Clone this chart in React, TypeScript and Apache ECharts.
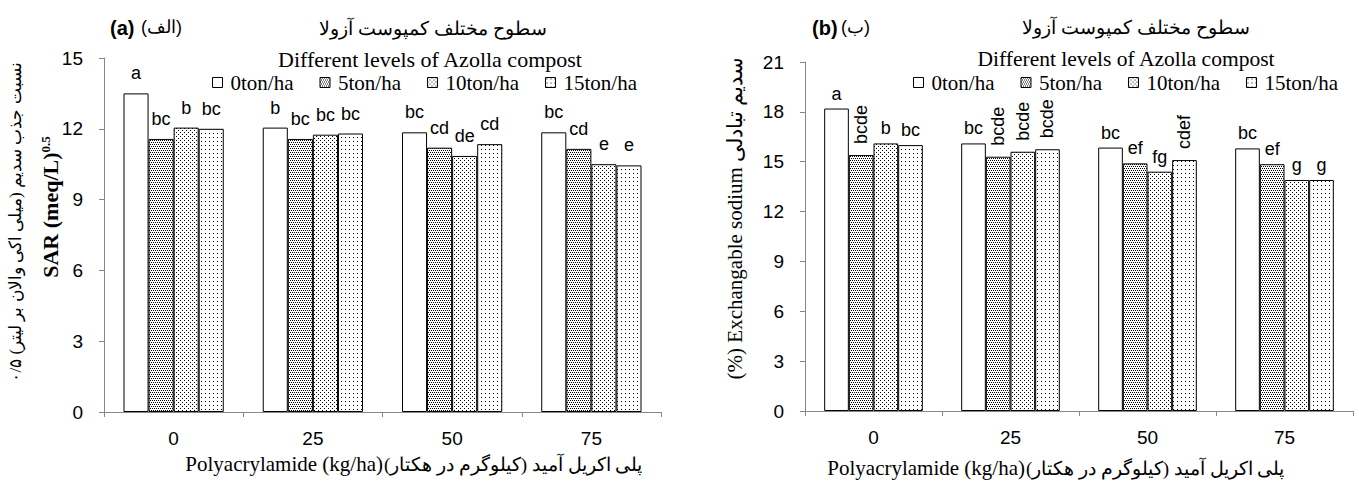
import React, { useEffect, useRef } from "react";
import * as echarts from "echarts";

const categories = ["0", "25", "50", "75"];
const seriesNames = ["0ton/ha", "5ton/ha", "10ton/ha", "15ton/ha"];

// Chart (a): SAR
const sar0 = [13.5, 12.05, 11.85, 11.85];
const sar5 = [11.57, 11.57, 11.2, 11.15];
const sar10 = [12.05, 11.75, 10.85, 10.5];
const sar15 = [12.0, 11.8, 11.35, 10.45];
const sarLetters0 = ["a", "b", "bc", "bc"];
const sarLetters5 = ["bc", "bc", "cd", "cd"];
const sarLetters10 = ["b", "bc", "de", "e"];
const sarLetters15 = ["bc", "bc", "cd", "e"];

// Chart (b): Exchangeable sodium
const esp0 = [18.2, 16.1, 15.85, 15.8];
const esp5 = [15.4, 15.3, 14.9, 14.85];
const esp10 = [16.1, 15.6, 14.4, 13.9];
const esp15 = [16.0, 15.75, 15.1, 13.9];
const espLetters0 = ["a", "bc", "bc", "bc"];
const espLetters5 = ["bcde", "bcde", "ef", "ef"];
const espLetters10 = ["b", "bcde", "fg", "g"];
const espLetters15 = ["bc", "bcde", "cdef", "g"];

const sarTicksMax = 15;
const espTicksMax = 21;

function makePattern(w: number, h: number, dots: number[][]) {
  const c = document.createElement("canvas");
  c.width = w;
  c.height = h;
  const ctx = c.getContext("2d")!;
  ctx.fillStyle = "#ffffff";
  ctx.fillRect(0, 0, w, h);
  ctx.fillStyle = "#000000";
  dots.forEach(([x, y]) => ctx.fillRect(x, y, 1, 1));
  return { image: c, repeat: "repeat", imageWidth: w, imageHeight: h } as any;
}

export default function App() {
  const ref = useRef<HTMLDivElement>(null);
  useEffect(() => {
    if (!ref.current) return;
    const chart = echarts.init(ref.current, undefined, { renderer: "svg" });
    const fills = [
      "#ffffff",
      makePattern(4, 4, [[0, 0], [2, 0], [1, 2], [3, 2]]),
      makePattern(4, 4, [[0, 0], [2, 2]]),
      makePattern(4, 4, [[1, 1]]),
    ];
    const serif = "'Liberation Serif', 'Times New Roman', serif";
    const sans = "'Liberation Sans', Arial, sans-serif";

    const mkSeries = (
      name: string,
      idx: number,
      values: number[],
      letters: string[],
      grid: number,
      dist: number
    ) => ({
      name,
      type: "bar",
      xAxisIndex: grid,
      yAxisIndex: grid,
      barGap: "0%",
      barCategoryGap: "28%",
      itemStyle: { color: fills[idx], borderColor: "#000", borderWidth: 1 },
      label: {
        show: true,
        position: "top",
        distance: dist,
        fontSize: 18,
        fontFamily: sans,
        color: "#000",
        formatter: (p: any) => letters[p.dataIndex],
      },
      data: values.map((v, i) =>
        letters[i].length >= 4
          ? {
              value: v,
              label: { rotate: 90, align: "left", verticalAlign: "middle", distance: 11 },
            }
          : v
      ),
    });

    const legendBase = {
      data: seriesNames,
      itemWidth: 10,
      itemHeight: 10,
      itemGap: 26,
      padding: 0,
      icon: "rect",
      itemStyle: { borderColor: "#000", borderWidth: 1 },
      textStyle: {
        fontFamily: serif,
        fontSize: 21,
        lineHeight: 20,
        color: "#000",
        padding: [0, 0, 0, 3],
      },
    };

    const axisLineStyle = { color: "#888", width: 1 };
    const xAxisBase = (g: number) => ({
      type: "category",
      gridIndex: g,
      data: categories,
      axisLine: { lineStyle: axisLineStyle },
      axisTick: { show: true, length: 5, lineStyle: axisLineStyle },
      axisLabel: { margin: 17, fontSize: 19, color: "#000", fontFamily: sans },
    });
    const yAxisBase = (g: number, max: number) => ({
      type: "value",
      gridIndex: g,
      min: 0,
      max,
      interval: 3,
      axisLine: { show: true, lineStyle: axisLineStyle },
      axisTick: { show: true, length: 5, lineStyle: axisLineStyle },
      splitLine: { show: false },
      axisLabel: { margin: 21, fontSize: 19, color: "#000", fontFamily: sans },
    });

    const titleText = (x: number, y: number, text: string, font: string) => ({
      type: "text",
      x,
      y,
      style: { text, font, fill: "#000", align: "center", verticalAlign: "middle", lineHeight: 20 },
    });

    chart.setOption({
      animation: false,
      backgroundColor: "#ffffff",
      grid: [
        { left: 104, top: 58, width: 557, height: 354 },
        { left: 805, top: 62, width: 548, height: 349 },
      ],
      legend: [
        { ...legendBase, left: 212, top: 72 },
        { ...legendBase, left: 913, top: 72 },
      ],
      xAxis: [xAxisBase(0), xAxisBase(1)],
      yAxis: [yAxisBase(0, sarTicksMax), yAxisBase(1, espTicksMax)],
      series: [
        mkSeries(seriesNames[0], 0, sar0, sarLetters0, 0, 11),
        mkSeries(seriesNames[1], 1, sar5, sarLetters5, 0, 11),
        mkSeries(seriesNames[2], 2, sar10, sarLetters10, 0, 11),
        mkSeries(seriesNames[3], 3, sar15, sarLetters15, 0, 11),
        mkSeries(seriesNames[0], 0, esp0, espLetters0, 1, 6),
        mkSeries(seriesNames[1], 1, esp5, espLetters5, 1, 6),
        mkSeries(seriesNames[2], 2, esp10, espLetters10, 1, 6),
        mkSeries(seriesNames[3], 3, esp15, espLetters15, 1, 6),
      ],
      graphic: [
        { type: "text", left: 110, top: 18, style: { text: "(a)", font: `bold 20px ${sans}`, fill: "#000" } },
        { type: "text", left: 141, top: 18, style: { text: "(الف)", font: `18px ${sans}`, fill: "#000" } },
        titleText(433, 28, "سطوح مختلف کمپوست آزولا", `19px ${serif}`),
        titleText(430, 59, "Different levels of Azolla compost", `22px ${serif}`),
        {
          type: "text", x: 15, y: 222, rotation: Math.PI / 2,
          style: { text: "نسبت جذب سدیم (میلی اکی والان بر لیتر) ۰/۵", font: `17px ${serif}`, fill: "#000", align: "center", verticalAlign: "middle" },
        },
        {
          type: "text", x: 50, y: 207, rotation: Math.PI / 2,
          style: {
            text: "{b|SAR (meq/L)}{s|0.5}",
            align: "center", verticalAlign: "middle",
            rich: {
              b: { font: `bold 22px ${serif}`, fill: "#000" },
              s: { font: `bold 13px ${serif}`, fill: "#000", verticalAlign: "top", padding: [0, 0, 10, 0] },
            },
          },
        },
        { type: "text", x: 383, y: 464, style: { text: "Polyacrylamide (kg/ha)", font: `21px ${serif}`, fill: "#000", align: "right", verticalAlign: "middle" } },
        { type: "text", x: 384, y: 464, style: { text: "پلی اکریل آمید (کیلوگرم در هکتار)\u200F", font: `19px ${serif}`, fill: "#000", align: "left", verticalAlign: "middle" } },

        { type: "text", left: 812, top: 18, style: { text: "(b)", font: `bold 20px ${sans}`, fill: "#000" } },
        { type: "text", left: 841, top: 18, style: { text: "(ب)", font: `18px ${sans}`, fill: "#000" } },
        titleText(1136, 27, "سطوح مختلف کمپوست آزولا", `19px ${serif}`),
        titleText(1126, 59, "Different levels of Azolla compost", `21.5px ${serif}`),
        {
          type: "text", x: 735, y: 218, rotation: Math.PI / 2,
          style: { text: "(%) Exchangable sodium سدیم تبادلی", font: `21px ${serif}`, fill: "#000", align: "center", verticalAlign: "middle" },
        },
        { type: "text", x: 1025, y: 468, style: { text: "Polyacrylamide (kg/ha)", font: `21px ${serif}`, fill: "#000", align: "right", verticalAlign: "middle" } },
        { type: "text", x: 1026, y: 468, style: { text: "پلی اکریل آمید (کیلوگرم در هکتار)\u200F", font: `19px ${serif}`, fill: "#000", align: "left", verticalAlign: "middle" } },
      ],
    });
    return () => chart.dispose();
  }, []);
  return (
    <div
      ref={ref}
      style={{ position: "absolute", left: 0, top: 0, width: 1359, height: 486, background: "#fff" }}
    />
  );
}
